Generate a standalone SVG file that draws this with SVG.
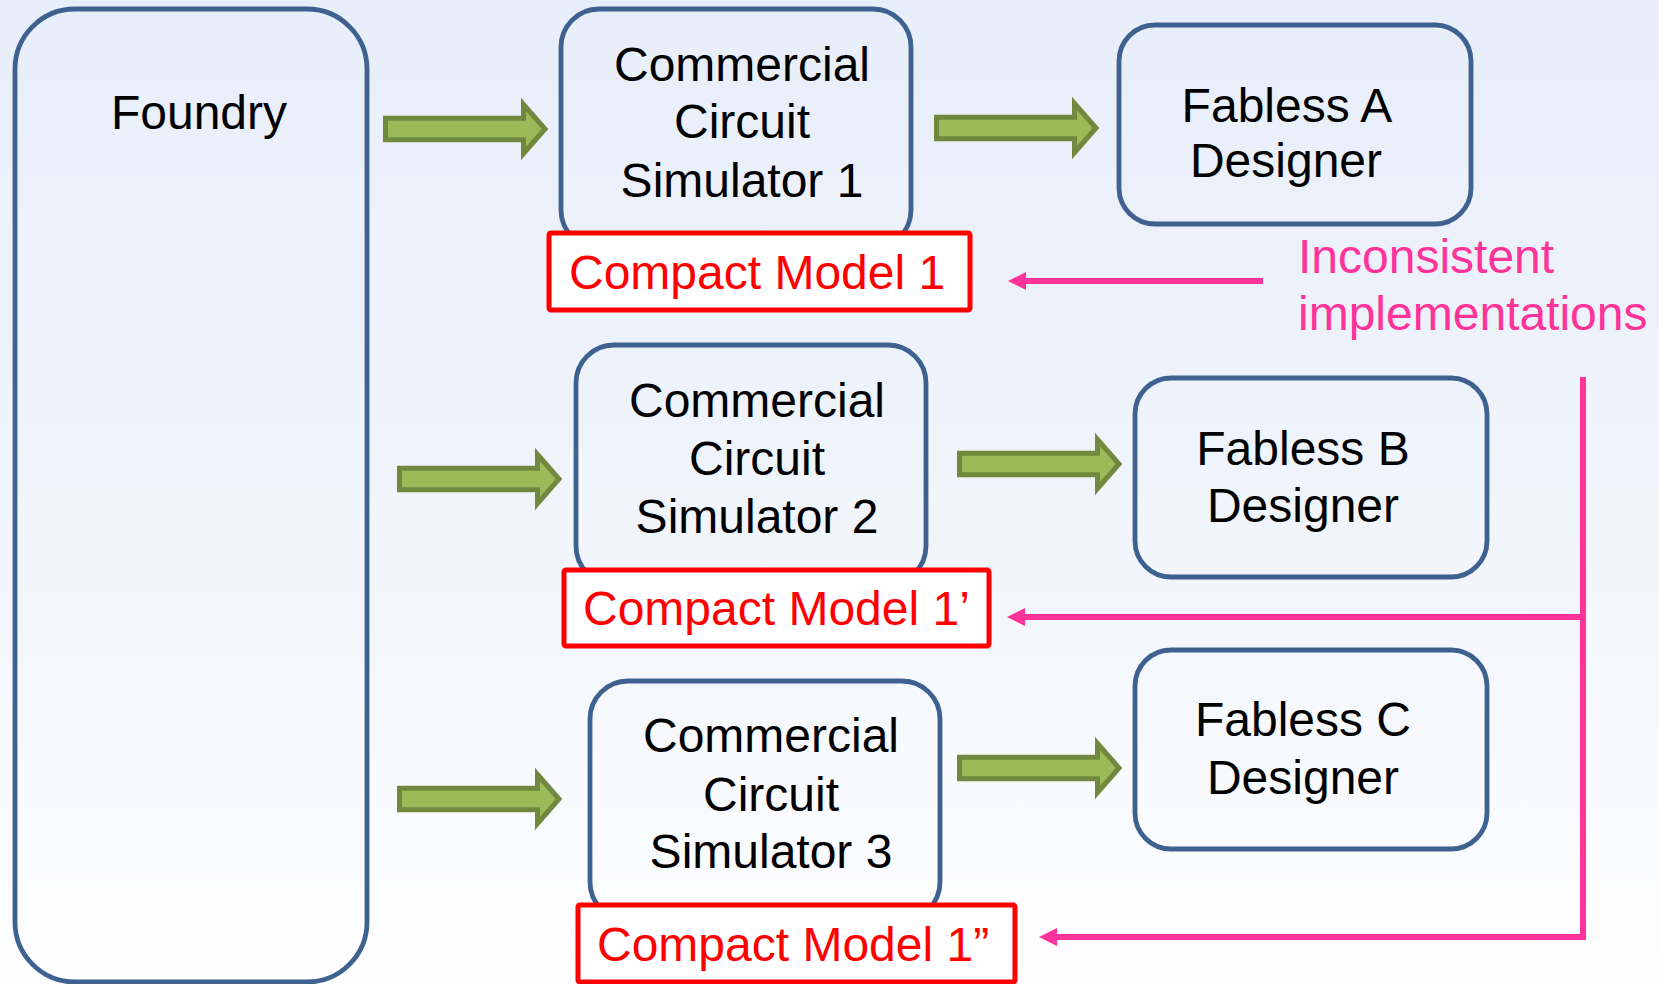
<svg xmlns="http://www.w3.org/2000/svg" width="1659" height="984" viewBox="0 0 1659 984">
  <defs>
    <linearGradient id="bg" x1="0" y1="0" x2="0" y2="984" gradientUnits="userSpaceOnUse">
      <stop offset="0" stop-color="#E8EEF9"/>
      <stop offset="0.5" stop-color="#F0F4FB"/>
      <stop offset="1" stop-color="#FEFEFF"/>
    </linearGradient>
    <!-- block arrow, origin at left edge / vertical centre -->
    <path id="fat-arrow" d="M2.5,-10.8 H140.5 V-24.5 L162,0 L140.5,24.5 V10.8 H2.5 Z"/>
    <marker id="pink-head" markerUnits="userSpaceOnUse" markerWidth="18" markerHeight="18" viewBox="0 0 18 18" refX="1" refY="9" orient="auto">
      <path d="M0,0 L18,9 L0,18 Z" fill="#FF3399"/>
    </marker>
    <style>
      .node { fill: url(#bg); stroke: #3E6190; stroke-width: 4.8; }
      .model { fill: #FFFFFF; stroke: #FF0000; stroke-width: 5; }
      .label { font-family: "Liberation Sans", Arial, sans-serif; font-size: 48px; fill: #000000; text-anchor: middle; }
      .model-text { font-family: "Liberation Sans", Arial, sans-serif; font-size: 48px; fill: #FF0000; }
      .note { font-family: "Liberation Sans", Arial, sans-serif; font-size: 48px; fill: #FF3399; }
      .flow { fill: #9BBB59; stroke: #71893F; stroke-width: 5; stroke-linejoin: miter; }
      .link { fill: none; stroke: #FF3399; stroke-width: 6; stroke-linejoin: miter; }
    </style>
  </defs>

  <rect x="0" y="0" width="1659" height="984" fill="url(#bg)"/>

  <g id="foundry">
    <rect class="node" x="15" y="9" width="352" height="973" rx="60" ry="60"/>
    <text class="label" x="199" y="129">Foundry</text>
  </g>

  <g id="simulator-1">
    <rect class="node" x="561" y="9" width="350" height="239" rx="38" ry="38"/>
    <text class="label" x="742" y="81">Commercial</text>
    <text class="label" x="742" y="138">Circuit</text>
    <text class="label" x="742" y="197">Simulator 1</text>
  </g>
  <g id="model-1">
    <rect class="model" x="549" y="233" width="421" height="77" rx="2"/>
    <text class="model-text" x="569" y="289">Compact Model 1</text>
  </g>

  <g id="simulator-2">
    <rect class="node" x="576" y="345" width="350" height="239" rx="38" ry="38"/>
    <text class="label" x="757" y="417">Commercial</text>
    <text class="label" x="757" y="475">Circuit</text>
    <text class="label" x="757" y="533">Simulator 2</text>
  </g>
  <g id="model-1-prime">
    <rect class="model" x="564" y="570" width="425" height="76" rx="2"/>
    <text class="model-text" x="583" y="625">Compact Model 1’</text>
  </g>

  <g id="simulator-3">
    <rect class="node" x="590" y="681" width="350" height="239" rx="38" ry="38"/>
    <text class="label" x="771" y="752">Commercial</text>
    <text class="label" x="771" y="811">Circuit</text>
    <text class="label" x="771" y="868">Simulator 3</text>
  </g>
  <g id="model-1-double-prime">
    <rect class="model" x="578" y="905" width="437" height="77" rx="2"/>
    <text class="model-text" x="597" y="961">Compact Model 1”</text>
  </g>

  <g id="fabless-a">
    <rect class="node" x="1119" y="25" width="352" height="199" rx="36" ry="36"/>
    <text class="label" x="1287" y="122">Fabless A</text>
    <text class="label" x="1286" y="177">Designer</text>
  </g>
  <g id="fabless-b">
    <rect class="node" x="1135" y="378" width="352" height="199" rx="36" ry="36"/>
    <text class="label" x="1303" y="465">Fabless B</text>
    <text class="label" x="1303" y="522">Designer</text>
  </g>
  <g id="fabless-c">
    <rect class="node" x="1135" y="650" width="352" height="199" rx="36" ry="36"/>
    <text class="label" x="1303" y="736">Fabless C</text>
    <text class="label" x="1303" y="794">Designer</text>
  </g>

  <g id="note">
    <text class="note" x="1298" y="273">Inconsistent</text>
    <text class="note" x="1298" y="330">implementations</text>
  </g>

  <g id="connectors">
    <use href="#fat-arrow" class="flow" x="383" y="129"/>
    <use href="#fat-arrow" class="flow" x="934" y="128"/>
    <use href="#fat-arrow" class="flow" x="397" y="479"/>
    <use href="#fat-arrow" class="flow" x="957" y="464"/>
    <use href="#fat-arrow" class="flow" x="397" y="799"/>
    <use href="#fat-arrow" class="flow" x="957" y="768"/>
    <path class="link" d="M1263,281 H1025" marker-end="url(#pink-head)"/>
    <path class="link" d="M1583,377 V937 H1056" marker-end="url(#pink-head)"/>
    <path class="link" d="M1583,617 H1024" marker-end="url(#pink-head)"/>
  </g>
</svg>
